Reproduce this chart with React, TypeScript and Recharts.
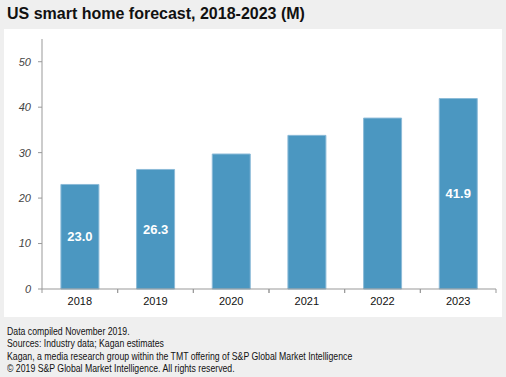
import React from "react";
import { BarChart, Bar, XAxis, YAxis, LabelList } from "recharts";

const years = ["2018", "2019", "2020", "2021", "2022", "2023"];
const homes = [23.0, 26.3, 29.7, 33.8, 37.6, 41.9];
const shownLabels = ["23.0", "26.3", null, null, null, "41.9"];
const yTicks = [0, 10, 20, 30, 40, 50];
const footerLines = [
  "Data compiled November 2019.",
  "Sources: Industry data; Kagan estimates",
  "Kagan, a media research group within the TMT offering of S&P Global Market Intelligence",
  "\u00A9 2019 S&P Global Market Intelligence. All rights reserved.",
];

const data = years.map((y, i) => ({ year: y, value: homes[i], label: shownLabels[i] }));

const font = "'Liberation Sans', Arial, sans-serif";

const XTick = (props: any) => {
  const { x, y, payload } = props;
  const off = payload && payload.offset != null ? payload.offset : 0;
  return (
    <g>
      <line x1={x - off} x2={x - off} y1={y - 8} y2={y - 4} stroke="#999" />
      <line x1={x + off} x2={x + off} y1={y - 8} y2={y - 4} stroke="#999" />
      <text x={x} y={y + 8} textAnchor="middle" fontSize={11} fill="#111" fontFamily={font}>
        {payload.value}
      </text>
    </g>
  );
};

export default function App() {
  return (
    <div style={{ position: "absolute", left: 0, top: 0, width: 506, height: 377, background: "#efefef", fontFamily: font }}>
      <div style={{ position: "absolute", left: 7, top: 5, fontSize: 16, fontWeight: "bold", color: "#111", whiteSpace: "nowrap" }}>
        US smart home forecast, 2018-2023 (M)
      </div>
      <div style={{ position: "absolute", left: 4, top: 29, width: 498, height: 288, background: "#fff" }}>
        <BarChart width={498} height={288} data={data} margin={{ top: 10, right: 6, left: 0, bottom: 0 }} barCategoryGap="25%">
          <XAxis dataKey="year" height={28} axisLine={{ stroke: "#999" }} tickLine={false} tick={<XTick />} interval={0} />
          <YAxis
            width={38}
            domain={[0, 55]}
            ticks={yTicks}
            axisLine={{ stroke: "#999" }}
            tickLine={{ stroke: "#999" }}
            tickSize={4}
            tickMargin={7}
            tick={{ fontSize: 11, fill: "#444", fontStyle: "italic", fontFamily: font }}
          />
          <Bar dataKey="value" fill="#4b97c1" stroke="#8cbbd8" strokeWidth={1} isAnimationActive={false}>
            <LabelList dataKey="label" position="center" fill="#fff" fontSize={13} fontWeight="bold" fontFamily={font} />
          </Bar>
        </BarChart>
      </div>
      <div
        style={{
          position: "absolute",
          left: 7,
          top: 325,
          fontSize: 10.5,
          lineHeight: "12.3px",
          color: "#111",
          whiteSpace: "nowrap",
          transform: "scaleX(0.83)",
          transformOrigin: "left top",
        }}
      >
        {footerLines.map((l, i) => (
          <div key={i}>{l}</div>
        ))}
      </div>
    </div>
  );
}
